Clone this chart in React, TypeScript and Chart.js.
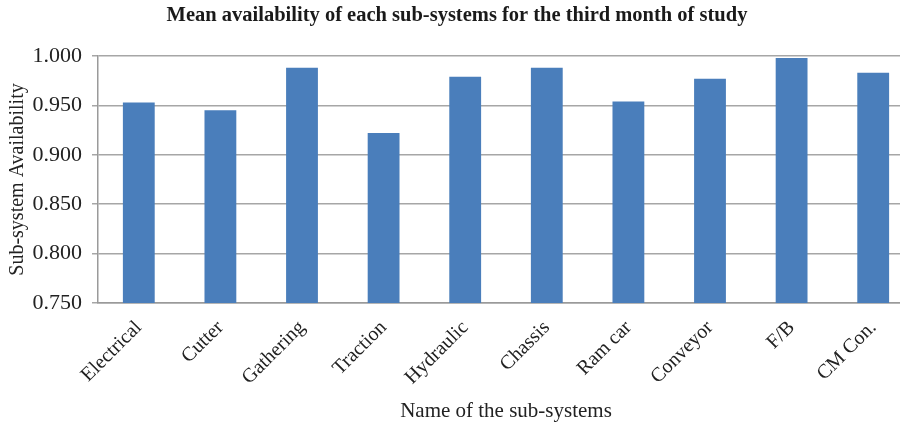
import React, { useEffect, useRef } from "react";
import { Chart, registerables } from "chart.js";

Chart.register(...registerables);

const categories = ["Electrical", "Cutter", "Gathering", "Traction", "Hydraulic", "Chassis", "Ram car", "Conveyor", "F/B", "CM Con."];
const availability = [0.953, 0.945, 0.988, 0.922, 0.979, 0.988, 0.954, 0.977, 0.998, 0.983];
const yMin = 0.75;
const yMax = 1.0;
const yStep = 0.05;
const titleText = "Mean availability of each sub-systems for the third month of study";
const xTitle = "Name of the sub-systems";
const yTitle = "Sub-system Availability";

export default function App() {
  const ref = useRef<HTMLCanvasElement>(null);
  useEffect(() => {
    document.body.style.margin = "0";
    const ctx = ref.current!;
    const serif = "'Liberation Serif', 'Times New Roman', serif";
    const chart = new Chart(ctx, {
      type: "bar",
      data: {
        labels: categories,
        datasets: [
          {
            data: availability,
            backgroundColor: "#4a7ebb",
            borderWidth: 0,
            categoryPercentage: 1,
            barPercentage: 0.39,
          },
        ],
      },
      options: {
        animation: false,
        responsive: false,
        maintainAspectRatio: false,
        layout: { padding: 0 },
        plugins: {
          legend: { display: false },
          tooltip: { enabled: false },
          title: {
            display: true,
            text: titleText,
            color: "#1a1a1a",
            font: { family: serif, size: 20.5, weight: "bold", lineHeight: 1.2 },
            padding: { top: 3, bottom: 28.4 },
          },
        },
        scales: {
          x: {
            afterFit: (s: any) => {
              s.height = 123;
            },
            grid: { display: false, drawTicks: false },
            border: { display: true, color: "#9a9a9a", width: 1.5 },
            ticks: {
              color: "#222",
              font: { family: serif, size: 20 },
              maxRotation: 45,
              minRotation: 45,
              autoSkip: false,
              padding: 13,
            },
            title: {
              display: true,
              text: xTitle,
              color: "#222",
              font: { family: serif, size: 21, lineHeight: 1.2 },
              padding: { top: 0, bottom: 1.5 },
            },
          },
          y: {
            afterFit: (s: any) => {
              s.width = 98;
            },
            min: yMin,
            max: yMax,
            grid: { color: "#a6a6a6", lineWidth: 1.5, tickLength: 6, drawTicks: true },
            border: { display: true, color: "#9a9a9a", width: 1.5 },
            ticks: {
              stepSize: yStep,
              color: "#222",
              font: { family: serif, size: 22 },
              padding: 10,
              callback: (v: any) => Number(v).toFixed(3),
            },
            title: {
              display: true,
              text: yTitle,
              color: "#222",
              font: { family: serif, size: 20, lineHeight: 1.2 },
              padding: { top: 5.5, bottom: 0 },
            },
          },
        },
      },
    });
    return () => chart.destroy();
  }, []);
  return (
    <div style={{ position: "absolute", left: 0, top: 0, width: 900, height: 426, overflow: "hidden", background: "#fff" }}>
      <canvas ref={ref} width={914} height={426} style={{ width: 914, height: 426, display: "block" }} />
    </div>
  );
}
